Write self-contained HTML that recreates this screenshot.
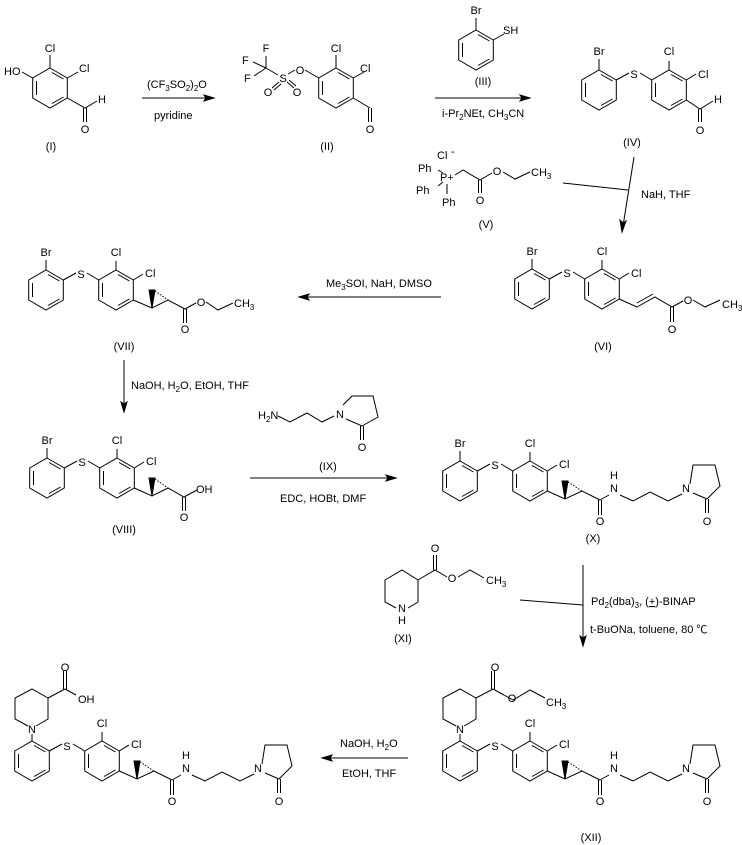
<!DOCTYPE html>
<html><head><meta charset="utf-8"><style>
html,body{margin:0;padding:0;background:#fff;}
svg{display:block;}
text{font-family:"Liberation Sans","Noto Sans CJK SC",sans-serif;font-size:11px;fill:#000;}
.m{text-anchor:middle;}
</style></head><body>
<svg width="742" height="845" viewBox="0 0 742 845" xmlns="http://www.w3.org/2000/svg">
<defs>
<g id="ring" fill="none" stroke="#000" stroke-width="1">
<path d="M0,-20 L17.3,-10 L17.3,10 L0,20 L-17.3,10 L-17.3,-10Z"/>
<path d="M-13.5,-7 L-13.5,7 M2,15.5 L13.5,9 M2,-15.5 L13.5,-9"/>
</g>
<g id="core" fill="none" stroke="#000" stroke-width="1">
<use href="#ring"/>
<use href="#ring" x="70"/>
<path d="M17.3,-10 L30,-17 M41,-17 L52.7,-10 M70,-20 L70,-29 M87.3,-10 L97,-16"/>
</g>
<g id="amide" fill="none" stroke="#000" stroke-width="1">
<path d="M17.3,10 L35,18 L52,10 L70,19 M35,18 L35,0"/>
<polygon points="35,18 32,0 38,0" fill="#000"/>
<path d="M38,1 L52,10" stroke-dasharray="1.5,1.5"/>
<path d="M68.5,19 L68.5,34 M71.5,19 L71.5,34 M70,19 L79,14 M90,14 L103,20 L120,11 L138,20 L152,13"/>
<path d="M160,3 L163,-16 L185,-16 L190,5 L177,18 L163,12 M175.5,18 L175.5,32 M178.5,18 L178.5,32"/>
</g>
<g id="pip" fill="none" stroke="#000" stroke-width="1">
<path d="M0,-20 L0,-27 M-4,-35 L-17,-42 L-17,-63 L0,-72 L16,-63 L16,-42 L4,-35 M16,-63 L33,-72 M31.5,-72 L31.5,-90 M34.5,-72 L34.5,-90 M33,-72 L44,-66"/>
</g>
</defs>

<g fill="none" stroke="#000" stroke-width="1">
<!-- I -->
<use href="#ring" x="50" y="88"/>
<path d="M50,68 L50,55 M67.3,78 L78,72 M32.7,78 L22,72 M67.3,98 L85,108 L97,101 M83.5,108 L83.5,122 M86.5,108 L86.5,122"/>
<path d="M142,98 L212,98"/><polygon points="214,98 204,95 206,98 204,101" fill="#000"/>
<!-- II -->
<use href="#ring" x="336" y="88"/>
<path d="M336,68 L336,55 M353.3,78 L364,72 M318.7,78 L305,70 M295,70 L288,74 M278,75 L266,68 M266,68 L266,56 M266,68 L253,62 M266,68 L254,76 M279,82 L272,88 M281,84 L274,90 M287,82 L294,88 M289,80 L296,86 M353.3,98 L370,108 M368.5,108 L368.5,122 M371.5,108 L371.5,122"/>
<!-- III -->
<use href="#ring" x="476" y="50"/>
<path d="M476,30 L476,18 M493.3,40 L504,34"/>
<path d="M435,98 L527,98"/><polygon points="530,98 520,95 522,98 520,101" fill="#000"/>
<!-- IV -->
<use href="#core" x="599" y="90"/>
<path d="M599,70 L599,59 M686.3,100 L700,109 L713,101 M698.5,109 L698.5,122 M701.5,109 L701.5,122"/>
<!-- V -->
<path d="M438,170 L443,173 M438,186 L443,182 M447,184 L447,194 M455,175 L463,170 L480,180 L492,173 M478.5,180 L478.5,193 M481.5,180 L481.5,193 M503,172 L515,179 L530,172"/>
<path d="M563,183 L628,190 M634,157 L623,226"/><polygon points="622,232 620,220 623,223 626,221" fill="#000"/>
<!-- VI -->
<use href="#core" x="532" y="289"/>
<path d="M532,269 L532,259 M619.3,299 L637,307 L655,297 L672,307 L683,301 M637,303 L653,294 M670.5,307 L670.5,322 M673.5,307 L673.5,322 M693,300 L705,307 L720,300"/>
<path d="M441,297 L302,297"/><polygon points="299,297 309,294 307,297 309,300" fill="#000"/>
<!-- VII -->
<use href="#core" x="46" y="290"/>
<path d="M46,270 L46,260"/>
<path d="M133.3,300 L152,308 L168,300 L185,309 L196,303 M152,308 L152,290 M183.5,309 L183.5,323 M186.5,309 L186.5,323 M206,302 L218,310 L233,303"/>
<polygon points="152,308 149,290 155,290" fill="#000"/>
<path d="M155,291 L168,300" stroke-dasharray="1.5,1.5"/>
<path d="M124,360 L124,405"/><polygon points="124,412 121,402 124,404 127,402" fill="#000"/>
<!-- VIII -->
<use href="#core" x="47" y="478"/>
<path d="M47,458 L47,448"/>
<path d="M134.3,488 L152,496 L168,488 L184,497 L197,490 M152,496 L152,478 M182.5,497 L182.5,511 M185.5,497 L185.5,511"/>
<polygon points="152,496 149,478 155,478" fill="#000"/>
<path d="M155,479 L168,488" stroke-dasharray="1.5,1.5"/>
<!-- IX -->
<path d="M278,416 L290,422 L307,413 L322,422 L334,416 M343,405 L352,396 L373,396 L378,417 L362,426 L346,419 M360.5,426 L360.5,440 M363.5,426 L363.5,440"/>
<path d="M250,478 L392,478"/><polygon points="396,478 386,475 388,478 386,481" fill="#000"/>
<!-- X -->
<use href="#core" x="460" y="481"/>
<path d="M460,461 L460,451"/>
<use href="#amide" x="530" y="481"/>
<!-- XI -->
<path d="M396,608 L385,602 L385,580 L402,570 L418,580 L418,602 L408,608 M418,580 L435,570 L447,577 M433.5,570 L433.5,555 M436.5,570 L436.5,555 M458,577 L470,570 L484,578"/>
<path d="M520,600 L583,605 M583,565 L583,640"/><polygon points="583,646 580,636 583,638 586,636" fill="#000"/>
<!-- XII -->
<use href="#core" x="460" y="761"/>
<use href="#pip" x="460" y="761"/>
<use href="#amide" x="530" y="761"/>
<path d="M504,695 L513,700 L530,690 L545,698"/>
<path d="M408,758 L328,758"/><polygon points="322,758 332,755 330,758 332,761" fill="#000"/>
<!-- final -->
<use href="#core" x="32" y="761"/>
<use href="#pip" x="32" y="761"/>
<use href="#amide" x="102" y="761"/>
</g>

<text x="4" y="75">HO</text>
<text class="m" x="50" y="52">Cl</text>
<text x="79" y="72">Cl</text>
<text x="98" y="103">H</text>
<text class="m" x="85" y="133">O</text>
<text class="m" x="51" y="150">(I)</text>
<text x="147" y="88">(CF<tspan font-size="8" dy="3">3</tspan><tspan dy="-3">SO</tspan><tspan font-size="8" dy="3">2</tspan><tspan dy="-3">)</tspan><tspan font-size="8" dy="3">2</tspan><tspan dy="-3">O</tspan></text>
<text x="154" y="119">pyridine</text>

<text class="m" x="266" y="52">F</text>
<text x="242" y="64">F</text>
<text x="244" y="82">F</text>
<text class="m" x="283" y="82">S</text>
<text class="m" x="300" y="74">O</text>
<text class="m" x="268" y="96">O</text>
<text class="m" x="297" y="96">O</text>
<text class="m" x="336" y="52">Cl</text>
<text x="360" y="72">Cl</text>
<text class="m" x="370" y="133">O</text>
<text class="m" x="327" y="150">(II)</text>

<text class="m" x="476" y="14">Br</text>
<text x="503" y="34">SH</text>
<text class="m" x="483" y="85">(III)</text>
<text x="442" y="117">i-Pr<tspan font-size="8" dy="3">2</tspan><tspan dy="-3">NEt, CH</tspan><tspan font-size="8" dy="3">3</tspan><tspan dy="-3">CN</tspan></text>

<text class="m" x="599" y="55">Br</text>
<text class="m" x="634" y="78">S</text>
<text class="m" x="669" y="55">Cl</text>
<text x="698" y="78">Cl</text>
<text x="714" y="103">H</text>
<text class="m" x="700" y="134">O</text>
<text class="m" x="632" y="146">(IV)</text>

<text x="437" y="159">Cl</text><text x="451" y="155" font-size="9">-</text>
<text x="418" y="172">Ph</text>
<text x="440" y="181">P+</text>
<text x="416" y="194">Ph</text>
<text x="442" y="206">Ph</text>
<text class="m" x="480" y="204">O</text>
<text class="m" x="497" y="175">O</text>
<text x="531" y="176">CH<tspan font-size="8" dy="3">3</tspan></text>
<text class="m" x="486" y="228">(V)</text>
<text x="641" y="198">NaH, THF</text>

<text class="m" x="532" y="255">Br</text>
<text class="m" x="567" y="277">S</text>
<text class="m" x="602" y="255">Cl</text>
<text x="631" y="277">Cl</text>
<text class="m" x="672" y="333">O</text>
<text class="m" x="688" y="304">O</text>
<text x="722" y="308">CH<tspan font-size="8" dy="3">3</tspan></text>
<text class="m" x="603" y="350">(VI)</text>
<text x="326" y="287">Me<tspan font-size="8" dy="3">3</tspan><tspan dy="-3">SOI, NaH, DMSO</tspan></text>

<text class="m" x="46" y="256">Br</text>
<text class="m" x="81" y="278">S</text>
<text class="m" x="116" y="256">Cl</text>
<text x="145" y="277">Cl</text>
<text class="m" x="185" y="333">O</text>
<text class="m" x="201" y="306">O</text>
<text x="234" y="307">CH<tspan font-size="8" dy="3">3</tspan></text>
<text class="m" x="124" y="350">(VII)</text>

<text x="131" y="389">NaOH, H<tspan font-size="8" dy="3">2</tspan><tspan dy="-3">O, EtOH, THF</tspan></text>

<text class="m" x="47" y="444">Br</text>
<text class="m" x="82" y="466">S</text>
<text class="m" x="117" y="444">Cl</text>
<text x="146" y="465">Cl</text>
<text x="196" y="493">OH</text>
<text class="m" x="184" y="521">O</text>
<text class="m" x="124" y="533">(VIII)</text>

<text x="258" y="419">H<tspan font-size="8" dy="3">2</tspan><tspan dy="-3">N</tspan></text>
<text class="m" x="340" y="418">N</text>
<text class="m" x="362" y="451">O</text>
<text class="m" x="328" y="470">(IX)</text>
<text x="280" y="502">EDC, HOBt, DMF</text>

<text class="m" x="460" y="447">Br</text>
<text class="m" x="495" y="469">S</text>
<text class="m" x="530" y="447">Cl</text>
<text x="559" y="468">Cl</text>
<text class="m" x="600" y="525">O</text>
<text class="m" x="614" y="492">N</text>
<text class="m" x="614" y="479">H</text>
<text class="m" x="686" y="492">N</text>
<text class="m" x="707" y="525">O</text>
<text class="m" x="593" y="542">(X)</text>

<text class="m" x="402" y="612">N</text>
<text class="m" x="402" y="624">H</text>
<text class="m" x="435" y="552">O</text>
<text class="m" x="452" y="582">O</text>
<text x="486" y="584">CH<tspan font-size="8" dy="3">3</tspan></text>
<text class="m" x="403" y="642">(XI)</text>
<text x="591" y="605">Pd<tspan font-size="8" dy="3">2</tspan><tspan dy="-3">(dba)</tspan><tspan font-size="8" dy="3">3</tspan><tspan dy="-3">, (</tspan><tspan text-decoration="underline">+</tspan>)-BINAP</text>
<text x="590" y="633">t-BuONa, toluene, 80 ℃</text>

<text class="m" x="460" y="733">N</text>
<text class="m" x="495" y="750">S</text>
<text class="m" x="530" y="727">Cl</text>
<text x="559" y="748">Cl</text>
<text class="m" x="495" y="671">O</text>
<text class="m" x="512" y="702">O</text>
<text x="546" y="706">CH<tspan font-size="8" dy="3">3</tspan></text>
<text class="m" x="600" y="805">O</text>
<text class="m" x="614" y="772">N</text>
<text class="m" x="614" y="759">H</text>
<text class="m" x="686" y="772">N</text>
<text class="m" x="707" y="805">O</text>
<text class="m" x="591" y="841">(XII)</text>

<text x="340" y="747">NaOH, H<tspan font-size="8" dy="3">2</tspan><tspan dy="-3">O</tspan></text>
<text x="342" y="777">EtOH, THF</text>

<text class="m" x="32" y="733">N</text>
<text class="m" x="67" y="750">S</text>
<text class="m" x="102" y="727">Cl</text>
<text x="131" y="748">Cl</text>
<text class="m" x="65" y="671">O</text>
<text x="78" y="703">OH</text>
<text class="m" x="172" y="805">O</text>
<text class="m" x="186" y="772">N</text>
<text class="m" x="186" y="759">H</text>
<text class="m" x="258" y="772">N</text>
<text class="m" x="279" y="805">O</text>
</svg>
</body></html>
